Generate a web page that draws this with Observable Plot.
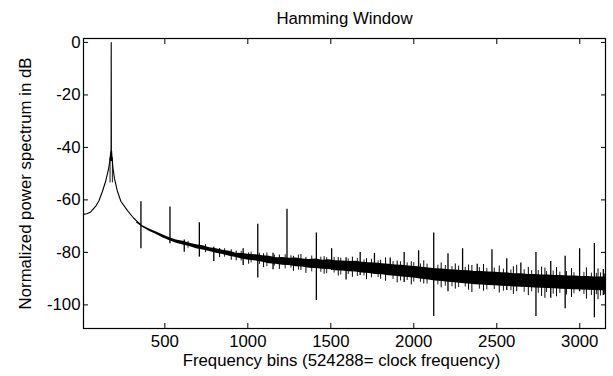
<!DOCTYPE html>
<html>
<head>
<meta charset="utf-8">
<script src="https://cdn.jsdelivr.net/npm/d3@7"></script>
<script src="https://cdn.jsdelivr.net/npm/@observablehq/plot@0.6"></script>
<style>
  html, body { margin: 0; padding: 0; background: #fff; }
  #chart svg { display: block; }
</style>
</head>
<body>
<div id="chart"></div>
<script>
// ---- Data ----
const titleText = "Hamming Window";
const xLabelText = "Frequency bins (524288= clock frequency)";
const yLabelText = "Normalized power spectrum in dB";

const xTicks = [500, 1000, 1500, 2000, 2500, 3000];
const yTicks = [-100, -80, -60, -40, -20, 0];

// Main tone and its window skirt (bin, dB)
const skirtBins = [10, 30, 53, 83, 103, 123, 143, 160, 168, 172, 175, 176, 177, 178, 179, 182, 188, 197, 213, 235, 274, 310, 335, 354];
const skirtDb   = [-65.5, -65.3, -64.6, -62.5, -60.3, -57, -53, -48.5, -45.5, -43, -41.3, -45, 0, -45, -41.3, -44, -48, -52, -56.4, -60.5, -64, -66.8, -68.3, -69.3];

// Inner leakage lines next to the tone (bin, top dB, bottom dB)
const innerBins = [170, 184];
const innerTop  = [-44, -44];
const innerBot  = [-53.5, -53.5];

// Noise floor band: upper and lower envelope (bin, dB)
const bandBins  = [330, 370, 410, 450, 490, 530, 570, 610, 650, 690, 730, 770, 810, 850, 890, 930, 970, 1010, 1050, 1090, 1130, 1170, 1210, 1250, 1290, 1330, 1370, 1410, 1450, 1490, 1530, 1570, 1610, 1650, 1690, 1730, 1770, 1810, 1850, 1890, 1930, 1970, 2010, 2050, 2090, 2130, 2170, 2210, 2250, 2290, 2330, 2370, 2410, 2450, 2490, 2530, 2570, 2610, 2650, 2690, 2730, 2770, 2810, 2850, 2890, 2930, 2970, 3010, 3050, 3090, 3130, 3155];
const bandUpper = [-68.3, -69.9, -71.2, -72.2, -73.4, -74.4, -75.3, -75.8, -76.5, -77.1, -77.5, -78.2, -78.6, -79.2, -79.6, -80.3, -80.4, -80.8, -80.9, -81.3, -81.5, -82.0, -81.9, -82.2, -82.1, -82.5, -82.7, -82.5, -83.0, -82.8, -83.2, -83.3, -83.5, -83.4, -83.8, -83.9, -84.0, -84.3, -84.5, -84.8, -84.9, -85.2, -85.4, -85.7, -85.9, -86.2, -86.3, -86.6, -86.7, -86.9, -87.0, -87.3, -87.3, -87.5, -87.6, -87.8, -87.9, -88.1, -88.1, -88.4, -88.4, -88.6, -88.6, -88.8, -88.8, -89.0, -89.0, -89.2, -89.2, -89.4, -89.4, -89.5];
const bandLower = [-68.8, -70.6, -72.0, -73.2, -74.5, -75.6, -76.5, -77.2, -77.8, -78.6, -79.1, -79.7, -80.3, -80.8, -81.5, -81.9, -82.6, -83.0, -83.3, -83.8, -84.3, -84.5, -84.9, -85.0, -85.5, -85.6, -86.0, -86.1, -86.4, -86.5, -87.0, -87.1, -87.4, -87.5, -87.9, -88.0, -88.4, -88.5, -88.9, -89.1, -89.4, -89.6, -89.9, -90.2, -90.5, -90.9, -91.1, -91.4, -91.6, -91.9, -92.0, -92.3, -92.4, -92.6, -92.7, -92.9, -93.0, -93.2, -93.3, -93.4, -93.6, -93.7, -93.8, -93.9, -94.0, -94.1, -94.2, -94.3, -94.4, -94.5, -94.6, -94.7];

// Harmonic spurs (bin, top dB, bottom dB)
const spurBins = [356, 531, 617, 708, 795, 972, 1060, 1152, 1236, 1413, 1505, 1592, 1677, 1763, 1858, 1942, 2029, 2120, 2206, 2294, 2382, 2471, 2560, 2645, 2736, 2825, 2912, 2999, 3088, 3142];
const spurTop  = [-60.7, -62.7, -75.3, -68.7, -78.0, -78.6, -69.3, -80.3, -63.6, -72.6, -78.6, -82.0, -80.0, -80.4, -82.1, -80.0, -79.4, -72.6, -80.5, -78.6, -84.5, -79.0, -82.4, -84.0, -80.0, -83.5, -81.5, -78.6, -76.6, -86.5];
const spurBot  = [-78.6, -76.7, -79.9, -81.8, -83.5, -85.0, -89.8, -86.6, -85.0, -98.3, -86.9, -90.5, -88.8, -87.5, -88.0, -91.5, -89.4, -104.4, -95.0, -91.8, -91.3, -91.3, -94.5, -93.2, -104.4, -97.5, -101.5, -95.0, -104.9, -96.4];

// Noise hairs sticking out of the floor (bin, top dB, bottom dB)
const hairBins = [830, 900, 930, 1005, 1095, 1190, 1275, 1320, 1350, 1460, 1545, 1630, 1715, 1800, 1830, 1900, 1985, 2060, 2165, 2250, 2330, 2350, 2420, 2515, 2600, 2620, 2690, 2770, 2790, 2860, 2950, 3040, 3110];
const hairTop  = [-78.5, -79.0, -79.5, -80.2, -80.5, -81.0, -81.5, -80.8, -81.9, -81.6, -82.0, -81.8, -82.4, -83.0, -82.1, -83.3, -83.6, -83.2, -84.0, -84.4, -84.8, -85.0, -84.6, -85.2, -85.5, -84.9, -85.7, -85.6, -86.0, -85.8, -86.2, -85.9, -86.3];
const hairBot  = [-82.0, -83.0, -83.2, -84.5, -85.8, -86.5, -87.2, -86.9, -88.0, -88.3, -89.0, -89.5, -90.4, -90.2, -91.0, -91.6, -92.4, -92.0, -93.5, -94.0, -94.4, -95.3, -94.8, -95.5, -96.0, -95.0, -96.5, -96.8, -97.5, -96.9, -97.2, -97.8, -98.0];

// Finer noise fuzz around the floor (bin, top dB, bottom dB)
const fuzzBins = [640, 745, 860, 960, 1020, 1070, 1115, 1160, 1225, 1260, 1305, 1385, 1440, 1475, 1520, 1560, 1605, 1660, 1700, 1745, 1785, 1875, 1920, 1960, 2000, 2040, 2080, 2145, 2190, 2230, 2270, 2310, 2395, 2440, 2485, 2540, 2585, 2665, 2710, 2750, 2800, 2840, 2880, 2920, 2965, 3025, 3070, 3100, 3125, 3150];
const fuzzTop  = [-75.8, -77.0, -78.6, -79.6, -79.9, -80.3, -80.2, -81.0, -80.9, -81.3, -81.0, -81.4, -81.8, -82.0, -81.9, -82.2, -82.5, -82.3, -82.9, -82.6, -83.2, -83.5, -83.6, -84.0, -83.9, -84.4, -84.5, -84.9, -85.0, -85.4, -85.2, -85.7, -85.8, -86.1, -86.0, -86.4, -86.7, -86.6, -87.0, -86.9, -87.3, -87.1, -87.5, -87.3, -87.7, -87.6, -87.9, -88.0, -87.8, -88.2];
const fuzzBot  = [-78.4, -80.1, -81.8, -83.3, -84.0, -84.6, -85.4, -85.2, -86.3, -86.0, -86.8, -87.4, -87.6, -88.1, -87.9, -88.6, -88.4, -89.2, -89.0, -89.7, -89.6, -90.3, -90.9, -90.7, -91.3, -91.4, -92.1, -92.4, -92.9, -93.1, -93.4, -93.2, -94.0, -94.3, -94.1, -94.8, -94.6, -95.2, -95.0, -95.6, -95.3, -95.9, -95.6, -96.2, -95.8, -96.0, -96.4, -96.1, -96.6, -96.2];

// ---- Tables built from the arrays ----
const skirt = skirtBins.map((b, i) => ({x: b, y: skirtDb[i]}));
const band  = bandBins.map((b, i) => ({x: b, y1: bandLower[i], y2: bandUpper[i]}));
const spurs = spurBins.map((b, i) => ({x: b, y1: spurBot[i], y2: spurTop[i]}));
const hairs = hairBins.map((b, i) => ({x: b, y1: hairBot[i], y2: hairTop[i]}));
const fuzz  = fuzzBins.map((b, i) => ({x: b, y1: fuzzBot[i], y2: fuzzTop[i]}));
const inner = innerBins.map((b, i) => ({x: b, y1: innerBot[i], y2: innerTop[i]}));

const FONT = "16.8px";
const fmt = d => String(d);

const chart = Plot.plot({
  width: 613,
  height: 376,
  marginLeft: 83,
  marginRight: 8,
  marginTop: 38,
  marginBottom: 48,
  style: {fontFamily: "'Liberation Sans', Arial, sans-serif", fontSize: FONT, background: "#fff", color: "#000"},
  x: {domain: [10, 3155], label: null},
  y: {domain: [-109, 1.5], label: null},
  marks: [
    Plot.areaY(band, {x: "x", y1: "y1", y2: "y2", fill: "#000"}),
    Plot.line(skirt, {x: "x", y: "y", stroke: "#000", strokeWidth: 1.1}),
    Plot.ruleX(inner, {x: "x", y1: "y1", y2: "y2", stroke: "#000", strokeWidth: 0.9}),
    Plot.ruleX(fuzz, {x: "x", y1: "y1", y2: "y2", stroke: "#000", strokeWidth: 0.9}),
    Plot.ruleX(hairs, {x: "x", y1: "y1", y2: "y2", stroke: "#000", strokeWidth: 1}),
    Plot.ruleX(spurs, {x: "x", y1: "y1", y2: "y2", stroke: "#000", strokeWidth: 1.3}),
    Plot.frame({stroke: "#000", strokeWidth: 1.2}),
    Plot.axisX({anchor: "bottom", ticks: xTicks, tickSize: -5, tickPadding: 12, tickFormat: fmt, label: null, fontSize: FONT}),
    Plot.axisX({anchor: "top", ticks: xTicks, tickSize: -5, tickFormat: () => "", label: null}),
    Plot.axisY({anchor: "left", ticks: yTicks, tickSize: -5, tickPadding: 8, tickFormat: fmt, label: null, fontSize: FONT}),
    Plot.axisY({anchor: "right", ticks: yTicks, tickSize: -5, tickFormat: () => "", label: null}),
    Plot.text([titleText], {frameAnchor: "top", dy: -20, fontSize: FONT, lineAnchor: "middle"}),
    Plot.text([xLabelText], {frameAnchor: "bottom", dx: -3, dy: 32, fontSize: FONT, lineAnchor: "middle"}),
    Plot.text([yLabelText], {frameAnchor: "left", dx: -58, rotate: -90, textAnchor: "middle", fontSize: FONT, lineAnchor: "middle"})
  ]
});
document.getElementById("chart").appendChild(chart);
</script>
</body>
</html>
